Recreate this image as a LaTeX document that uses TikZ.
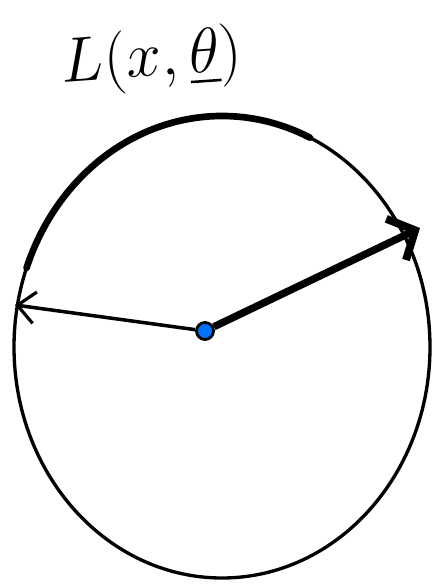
\documentclass[tikz,border=0pt]{standalone}
\usepackage{graphicx}
\usepackage{amsmath}
\usetikzlibrary{arrows.meta,positioning,calc}

\begin{document}
\begin{tikzpicture}[x=0.02cm, y=-0.02cm,
  outline/.style={draw, line width=1.9pt, line cap=round},
  pathpart/.style={draw, line width=3.8pt, line cap=round},
  thinray/.style={draw, line width=2pt, -{Straight Barb[length=10pt, width=18pt, line width=1.8pt]}},
  thickray/.style={draw, line width=4.2pt, -{Straight Barb[length=12pt, width=26pt, line width=4.5pt]}},
  spot/.style={circle, fill=blue!55!cyan, draw=black, line width=1.6pt,
               minimum width=0.34cm, minimum height=0.34cm, inner sep=0pt},
  tag/.style={font=\Huge, rotate=4},
]
  \useasboundingbox (0,0) rectangle (434,587);

  % the circle (slightly oval)
  \coordinate (mid) at (222,347);
  \draw[outline] (mid) ellipse [x radius=208, y radius=231];

  % thick stretch over the top
  \draw[pathpart] ($(mid)+(160:208 and -231)$) arc [start angle=160, end angle=65,
        x radius=208, y radius=-231];

  % centre point and rays
  \node[spot] (origin) at (205,331) {};
  \coordinate (leftend) at (15,305);
  \coordinate (rightend) at (420,228);
  \draw[thinray] (origin) -- (leftend);
  \draw[thickray] (origin) -- (rightend);

  % label
  \node[tag] (label) at (152,60) {\scalebox{1.45}{$L(x,\underline{\theta})$}};
\end{tikzpicture}
\end{document}
